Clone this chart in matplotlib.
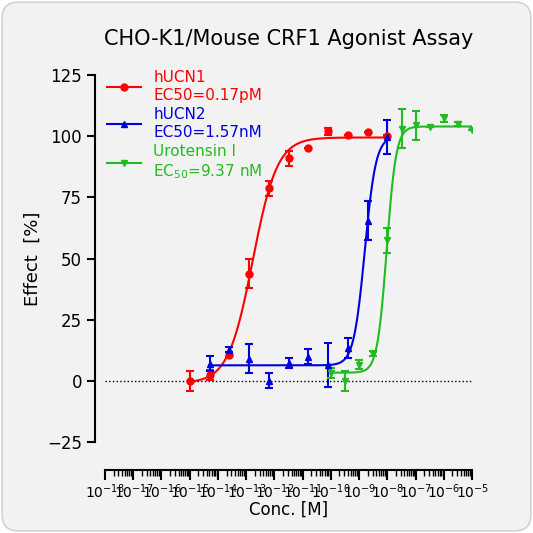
import numpy as np
import matplotlib.pyplot as plt
from matplotlib.ticker import LogLocator, NullFormatter
from matplotlib.patches import FancyBboxPatch

# hUCN1
x_ucn1 = [10**v for v in [-15, -14.3, -13.6, -12.9, -12.2, -11.5, -10.8, -10.1, -9.4, -8.7, -8.0]]
y_ucn1 = [0, 2.5, 10.7, 43.8, 78.7, 91, 95, 102, 100.4, 101.6, 100]
e_ucn1 = [4, 2, 1, 6, 3, 3, 0, 1.5, 0, 0, 0.5]
# hUCN2
x_ucn2 = [10**v for v in [-14.3, -13.6, -12.9, -12.2, -11.5, -10.8, -10.1, -9.4, -8.7, -8.0]]
y_ucn2 = [7, 12.7, 9, 0, 7.2, 9.9, 6.5, 13.5, 65.5, 99.6]
e_ucn2 = [3, 1, 6, 3, 2, 3, 9, 4, 8, 7]
# Urotensin I
x_uro = [10**v for v in [-10, -9.5, -9, -8.5, -8, -7.5, -7, -6.5, -6, -5.5, -5]]
y_uro = [3.3, 0, 6.6, 11.1, 57.4, 103, 104.5, 103.7, 107.4, 105, 102.5]
e_uro = [2, 4, 2, 1, 5, 8, 6, 0, 1.5, 1, 0]

# parametros de ajuste (bottom, top, logEC50, hill)
fit_ucn1 = (-1, 99.5, np.log10(1.7e-13), 1.0)
fit_ucn2 = (6.3, 100, np.log10(1.57e-9), 2.2)
fit_uro = (3.3, 104, np.log10(9.37e-9), 2.6)


def curva(logx, p):
    b, t, ec, n = p
    return b + (t - b) / (1 + 10 ** ((ec - logx) * n))


fig = plt.figure(figsize=(5.33, 5.33), dpi=100)
fig.patch.set_facecolor('white')
fondo = FancyBboxPatch((0.004, 0.004), 0.992, 0.992, boxstyle='round,pad=0,rounding_size=0.03',
                       transform=fig.transFigure, facecolor='#f2f2f2', edgecolor='#cccccc', lw=1, zorder=-10)
fig.patches.append(fondo)
ax = fig.add_axes([0.197, 0.171, 0.689, 0.688])
ax.set_facecolor('#f2f2f2')
ax.patch.set_alpha(0)

series = [
    (x_ucn1, y_ucn1, e_ucn1, fit_ucn1, (-15, -8), 'red', 'o', 'hUCN1\nEC50=0.17pM'),
    (x_ucn2, y_ucn2, e_ucn2, fit_ucn2, (-14.3, -8), '#0000dd', '^', 'hUCN2\nEC50=1.57nM'),
    (x_uro, y_uro, e_uro, fit_uro, (-10, -5), '#22bb22', 'v', 'Urotensin I\nEC$_{50}$=9.37 nM'),
]
for xs, ys, es, p, rng, c, m, lab in series:
    lx = np.linspace(rng[0], rng[1], 300)
    ax.plot(10 ** lx, curva(lx, p), color=c, lw=1.5)
    ax.errorbar(xs, ys, yerr=es, fmt=m, color=c, ms=5, capsize=3, elinewidth=1.5, capthick=1.5)
    ax.plot([], [], color=c, marker=m, ms=5, lw=1.5, label=lab)

ax.axhline(0, color='black', ls=':', lw=1)
ax.set_xscale('log')
ax.set_xlim(1e-18, 1e-5)
ax.set_ylim(-25, 125)
ax.set_yticks([-25, 0, 25, 50, 75, 100, 125])
ax.xaxis.set_minor_locator(LogLocator(base=10, subs=np.arange(2, 10), numticks=200))
ax.xaxis.set_minor_formatter(NullFormatter())
ax.set_xticks([10.0 ** k for k in range(-18, -4)])
ax.set_xticklabels(['$10^{%d}$' % k for k in range(-18, -4)], fontsize=9)
ax.tick_params(axis='y', labelsize=12, width=1.5, length=6)
ax.tick_params(axis='x', which='major', width=1.5, length=7, pad=2)
ax.tick_params(axis='x', which='minor', width=1, length=4)
for s in ['top', 'right']:
    ax.spines[s].set_visible(False)
ax.spines['left'].set_linewidth(1.5)
ax.spines['bottom'].set_linewidth(1.5)
ax.spines['bottom'].set_position(('outward', 20))
ax.spines['left'].set_position(('outward', 7))

ax.set_xlabel('Conc. [M]', fontsize=12, labelpad=0)
ax.set_ylabel('Effect  [%]', fontsize=13)
ax.set_title('CHO-K1/Mouse CRF1 Agonist Assay', fontsize=15, pad=22)

leg = ax.legend(loc='upper left', bbox_to_anchor=(-0.01, 1.03), frameon=False, fontsize=11,
                handlelength=2.2, labelspacing=0.3, borderaxespad=0)
for t, (*_, c, m, lab) in zip(leg.get_texts(), series):
    t.set_color(c)

fig.savefig('out.png', dpi=100)
